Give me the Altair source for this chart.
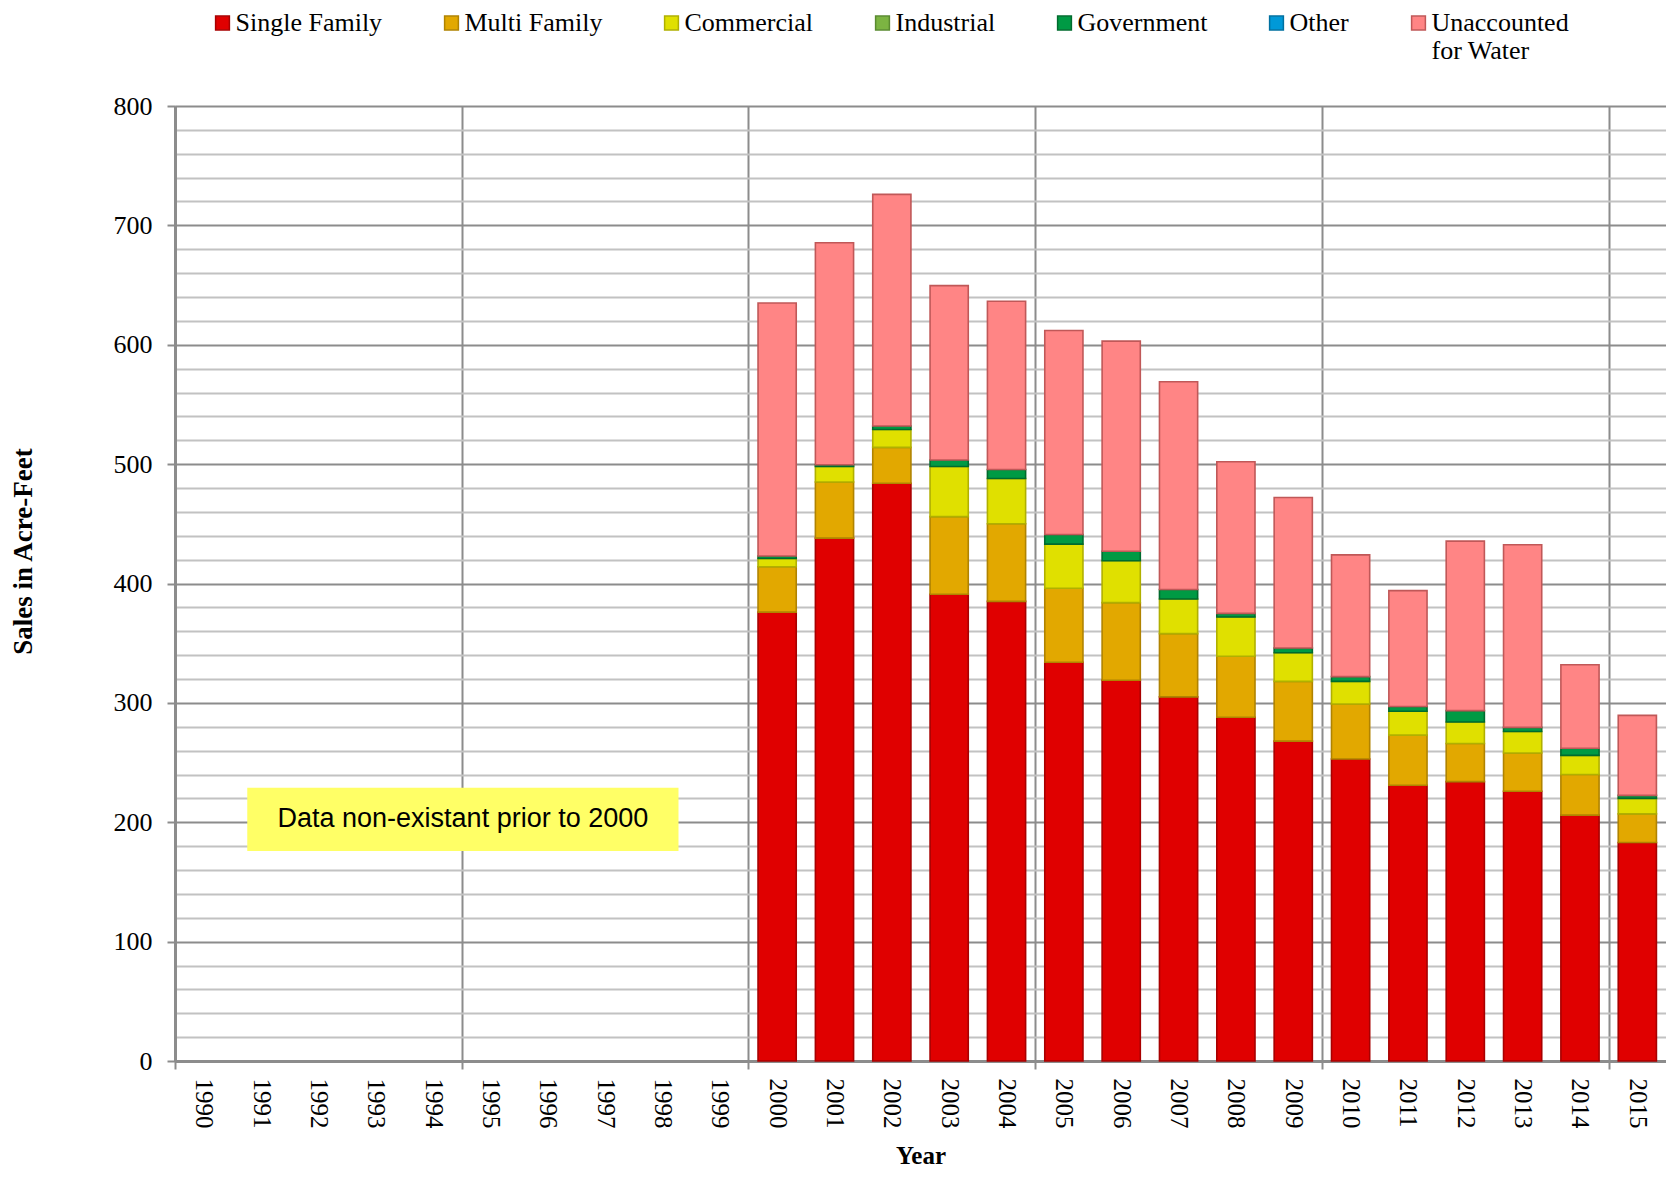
import altair as alt
import pandas as pd

# ---------------- data ----------------
axis_years = [1990, 1991, 1992, 1993, 1994, 1995, 1996, 1997, 1998, 1999,
              2000, 2001, 2002, 2003, 2004, 2005, 2006, 2007, 2008, 2009,
              2010, 2011, 2012, 2013, 2014, 2015]
data_years = [2000, 2001, 2002, 2003, 2004, 2005, 2006, 2007,
              2008, 2009, 2010, 2011, 2012, 2013, 2014, 2015]

single_family = [376, 438, 484, 391, 385, 334, 319, 305, 288, 268, 253, 231, 234, 226, 206, 183]
multi_family = [38, 47, 30, 65, 65, 62, 65, 53, 51, 50, 46, 42, 32, 32, 34, 24]
commercial = [7, 13, 15, 42, 38, 37, 35, 29, 33, 24, 19, 20, 18, 18, 16, 13]
industrial = [0, 0, 0, 0, 0, 0, 0, 0, 0, 0, 0, 0, 0, 0, 0, 0]
government = [2, 1.5, 3, 5.5, 7.5, 8, 8, 8, 3, 4, 4, 4, 9.5, 3.5, 6, 2.5]
other = [0, 0, 0, 0, 0, 0, 0, 0, 0, 0, 0, 0, 0, 0, 0, 0]
unaccounted = [212, 186, 194, 146, 141, 171, 176, 174, 127, 126, 102, 97, 142, 153, 70, 67]

series_names = ["Single Family", "Multi Family", "Commercial", "Industrial",
                "Government", "Other", "Unaccounted for Water"]
series_values = [single_family, multi_family, commercial, industrial,
                 government, other, unaccounted]
fill_colors = ["#E00000", "#E2A800", "#E0E000", "#7CB442", "#009A44", "#0099D8", "#FF8585"]
stroke_colors = ["#A80000", "#B08300", "#B0B000", "#5A8A30", "#006B2E", "#0070A0", "#C05858"]

annotation_text = "Data non-existant prior to 2000"
annotation_box = {"x": 1990.76, "x2": 1998.28, "y": 176, "y2": 229}

y_grid_values = list(range(0, 820, 20))
x_axis_values = axis_years + [y - 0.5 for y in axis_years if (y - 1990) % 5 == 0]

rows = []
for order, (name, vals) in enumerate(zip(series_names, series_values)):
    for yr, v in zip(data_years, vals):
        rows.append({"year": yr, "series": name, "value": v, "order": order})
df = pd.DataFrame(rows)

SERIF = "Liberation Serif"

fill_scale = alt.Scale(domain=series_names, range=fill_colors)
stroke_scale = alt.Scale(domain=series_names, range=stroke_colors)

x_scale = alt.Scale(domain=[1989.5, 2015.5], nice=False, zero=False)
y_scale = alt.Scale(domain=[0, 800], nice=False)

legend = alt.Legend(
    title=None, orient="none", direction="horizontal", columns=7,
    legendX=34.5, legendY=-96,
    symbolType="square", symbolSize=190, symbolStrokeWidth=1.5,
    labelFont=SERIF, labelFontSize=26, labelColor="black", labelLimit=400,
    labelOffset=0, columnPadding=56, labelBaseline="middle",
    labelExpr="datum.label == 'Unaccounted for Water' ? ['Unaccounted', 'for Water'] : [datum.label, '']",
)

bars = alt.Chart(df).transform_filter(
    "datum.value > 0"
).transform_stack(
    stack="value", groupby=["year"], as_=["y0", "y1"],
    sort=[alt.SortField("order", order="ascending")]
).transform_calculate(
    xa="datum.year - 0.333", xb="datum.year + 0.333"
).mark_rect(strokeWidth=1.6).encode(
    x=alt.X("xa:Q", scale=x_scale, title="Year",
            axis=alt.Axis(
                values=x_axis_values, tickCount=100,
                labelExpr="datum.value % 1 == 0 ? toString(datum.value) : ''",
                labelAngle=90, labelFont=SERIF, labelFontSize=25, labelColor="black",
                labelPadding=9, labelOverlap=False, labelFlush=False,
                tickSize=8, tickColor="#8c8c8c", tickWidth=2,
                tickOpacity=alt.condition("datum.value % 1 != 0", alt.value(1), alt.value(0)),
                grid=True, gridColor="#8c8c8c", gridWidth=2,
                gridOpacity=alt.condition("datum.value % 1 != 0", alt.value(1), alt.value(0)),
                domainColor="#8c8c8c", domainWidth=3,
                titleFont=SERIF, titleFontSize=25, titleFontWeight="bold",
                titleColor="black", titlePadding=15,
            )),
    x2="xb:Q",
    y=alt.Y("y0:Q", scale=y_scale, title="Sales in Acre-Feet",
            axis=alt.Axis(
                values=y_grid_values, tickCount=100,
                labelExpr="datum.value % 100 == 0 ? datum.label : ''",
                labelFont=SERIF, labelFontSize=26, labelColor="black",
                labelPadding=15, labelOverlap=False,
                tickSize=8, tickColor="#8c8c8c", tickWidth=2,
                tickOpacity=alt.condition("datum.value % 100 == 0", alt.value(1), alt.value(0)),
                grid=True, gridWidth=2,
                gridColor=alt.condition("datum.value % 100 == 0", alt.value("#8c8c8c"), alt.value("#c2c2c2")),
                domainColor="#8c8c8c", domainWidth=3,
                titleFont=SERIF, titleFontSize=27, titleFontWeight="bold",
                titleColor="black", titlePadding=76, titleY=445,
            )),
    y2="y1:Q",
    fill=alt.Fill("series:N", scale=fill_scale, legend=legend, sort=series_names),
    stroke=alt.Stroke("series:N", scale=stroke_scale, legend=legend, sort=series_names),
)

ann_df = pd.DataFrame([{**annotation_box, "text": annotation_text,
                        "xm": (annotation_box["x"] + annotation_box["x2"]) / 2,
                        "ym": (annotation_box["y"] + annotation_box["y2"]) / 2}])

ann_box = alt.Chart(ann_df).mark_rect(fill="#FFFF66").encode(
    x=alt.X("x:Q", scale=x_scale), x2="x2:Q",
    y=alt.Y("y:Q", scale=y_scale), y2="y2:Q",
)
ann_text = alt.Chart(ann_df).mark_text(
    font="Liberation Sans", fontSize=27, color="black", align="center", baseline="middle"
).encode(
    x=alt.X("xm:Q", scale=x_scale),
    y=alt.Y("ym:Q", scale=y_scale),
    text="text:N",
)

chart = alt.layer(bars, ann_box, ann_text).properties(
    width=1491, height=955,
    autosize=alt.AutoSizeParams(type="none"),
    padding={"left": 167, "top": 98, "right": 0, "bottom": 109},
).configure_view(stroke=None).configure(background="white")

chart.save("out.html", embed_options={"renderer": "svg", "actions": False})
